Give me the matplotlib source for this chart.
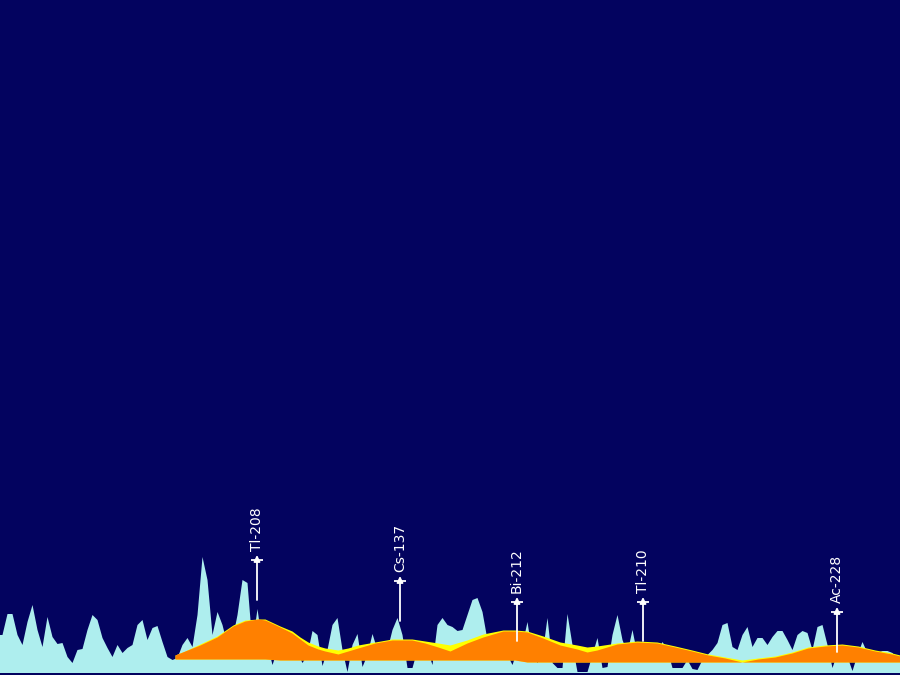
import numpy as np
import matplotlib
matplotlib.use("Agg")
import matplotlib.pyplot as plt

# spectrum counts, one value per 5-channel bin starting at channel 0
counts = [
    40, 61, 61, 40, 30, 53, 70, 45, 28, 58, 38, 31, 32, 18, 12, 25, 26, 45, 60, 55,
    37, 27, 18, 30, 22, 27, 30, 50, 55, 35, 47, 49, 33, 18, 15, 17, 30, 37, 28, 60,
    118, 95, 40, 63, 50,
    30, 35, 60, 95, 92, 30, 66, 30, 30, 10, 25, 30, 28, 25, 22, 12, 20, 44, 40, 9,
    25, 50, 57, 25, 3, 30, 41, 8, 20, 41, 25, 20, 25, 45, 57, 40, 7, 7, 25, 22,
    25, 10, 50, 57, 50, 48, 44, 45, 60, 75, 77, 63, 35, 30, 28, 25, 20, 10, 25, 30,
    53, 20, 12, 20, 57, 12, 7, 7, 61, 30, 3, 3, 3, 20, 37, 7, 8, 40, 60, 35,
    22, 45, 20, 25, 22, 20, 22, 33, 25, 7, 7, 7, 15, 6, 5, 15, 20, 25, 32, 50,
    52, 28, 25, 40, 48, 28, 37, 37, 30, 38, 44, 44, 35, 25, 40, 44, 42, 25, 48, 50,
    30, 7, 22, 20, 18, 4, 20, 33, 22, 20, 22, 24, 24, 22, 15,
]
bin_width = 5

# fitted peak envelope (orange) and total fit (yellow)
fit_x = [175, 185, 200, 217, 233, 245, 258, 265, 280, 292, 300, 308, 318, 325, 338,
         348, 358, 375, 392, 412, 425, 438, 450, 467, 483, 503, 515, 527, 543, 560,
         577, 587, 597, 617, 637, 657, 675, 692, 708, 725, 742, 758, 775, 792, 808,
         825, 842, 858, 875, 892, 900]
fit_peaks = [20, 24, 30, 38, 49, 54, 56, 55, 48, 42, 36, 30, 26, 24, 21,
             24, 27, 32, 35, 35, 32, 28, 24, 32, 38, 44, 44, 43, 37, 30,
             26, 23, 25, 31, 33, 32, 28, 24, 20, 17, 13, 16, 18, 22, 27,
             29, 30, 28, 24, 21, 19]
fit_total = [20, 24, 31, 39, 50, 55, 56, 56, 49, 44, 38, 33, 29, 27, 25,
             27, 30, 33, 36, 36, 34, 32, 30, 35, 41, 45, 45, 44, 39, 33,
             30, 28, 29, 32, 34, 33, 29, 25, 21, 18, 15, 17, 19, 23, 28,
             30, 31, 29, 25, 22, 20]
fit_base = [16, 16, 16, 16, 16, 16, 16, 16, 15, 15, 15, 15, 15, 15, 15,
            15, 15, 15, 15, 15, 15, 15, 15, 15, 15, 15, 15, 13, 13, 13,
            13, 13, 13, 13, 13, 13, 13, 13, 13, 13, 13, 13, 13, 13, 13,
            13, 13, 13, 13, 13, 13]

# identified nuclides
peak_names = ["Tl-208", "Cs-137", "Bi-212", "Tl-210", "Ac-228"]
peak_x = [257, 400, 517, 643, 837]
peak_tail = [75, 54, 34, 34, 23]
peak_head = [120, 99, 78, 78, 68]

navy = "#03035f"

fig = plt.figure(figsize=(9, 6.75), dpi=100)
fig.patch.set_facecolor(navy)
ax = fig.add_axes([0, 0, 1, 1])
ax.set_facecolor(navy)

centers = np.arange(len(counts)) * bin_width + bin_width / 2
ax.fill_between(np.r_[0, centers, 900], np.r_[counts[0], counts, counts[-1]], 2,
                color="#aeeeee", lw=0)

ax.fill_between(fit_x, fit_total, fit_base, color="#ffff00", lw=0)
ax.fill_between(fit_x, fit_peaks, fit_base, color="#ff8000", lw=0)

for name, x, tail, head in zip(peak_names, peak_x, peak_tail, peak_head):
    ax.annotate("", xy=(x, head), xytext=(x, tail),
                arrowprops=dict(arrowstyle="-|>", color="white", lw=1.3,
                                mutation_scale=9, shrinkA=0, shrinkB=0))
    ax.plot([x], [head - 5], marker="_", ms=9, mew=1.3, color="white")
    ax.text(x, head + 4, name, rotation=90, ha="center", va="bottom",
            color="white", fontsize=10)

ax.set_xlim(0, 900)
ax.set_ylim(0, 675)
ax.axis("off")

fig.savefig("out.png", dpi=100, facecolor=navy)
